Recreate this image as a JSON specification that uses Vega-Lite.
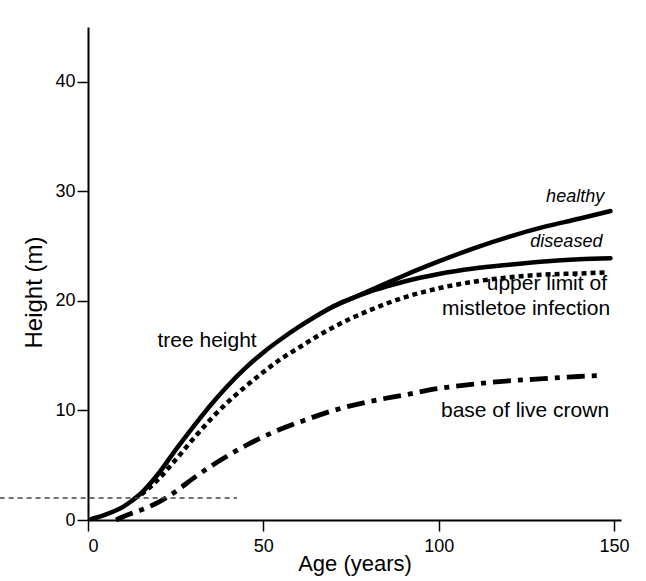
{
  "$schema": "https://vega.github.io/schema/vega-lite/v6.json",
  "width": 533,
  "height": 493,
  "autosize": {"type": "none"},
  "padding": {"left": 88, "top": 27, "right": 25, "bottom": 61},
  "background": "white",
  "config": {
    "view": {"stroke": null},
    "font": "Liberation Sans",
    "axis": {
      "grid": false,
      "domainColor": "black",
      "domainWidth": 2,
      "tickColor": "black",
      "tickWidth": 1.5,
      "tickSize": 11,
      "labelFont": "Liberation Sans",
      "labelFontSize": 18,
      "labelColor": "black",
      "titleFont": "Liberation Sans",
      "titleFontSize": 22,
      "titleFontWeight": "normal",
      "titleColor": "black"
    },
    "axisX": {"labelPadding": 6, "titlePadding": -2},
    "axisY": {"labelPadding": 2, "titlePadding": 8, "titleY": 265, "titleFontSize": 24}
  },
  "datasets": {
    "curves": [
      {"series": "healthy", "age": 1, "height": 0.1},
      {"series": "healthy", "age": 5, "height": 0.5},
      {"series": "healthy", "age": 10, "height": 1.2},
      {"series": "healthy", "age": 15, "height": 2.4},
      {"series": "healthy", "age": 20, "height": 4.2},
      {"series": "healthy", "age": 25, "height": 6.4},
      {"series": "healthy", "age": 30, "height": 8.5},
      {"series": "healthy", "age": 35, "height": 10.5},
      {"series": "healthy", "age": 40, "height": 12.3},
      {"series": "healthy", "age": 45, "height": 13.9},
      {"series": "healthy", "age": 50, "height": 15.3},
      {"series": "healthy", "age": 55, "height": 16.5},
      {"series": "healthy", "age": 60, "height": 17.6},
      {"series": "healthy", "age": 65, "height": 18.6},
      {"series": "healthy", "age": 70, "height": 19.5},
      {"series": "healthy", "age": 75, "height": 20.2},
      {"series": "healthy", "age": 80, "height": 20.9},
      {"series": "healthy", "age": 85, "height": 21.6},
      {"series": "healthy", "age": 90, "height": 22.3},
      {"series": "healthy", "age": 100, "height": 23.6},
      {"series": "healthy", "age": 110, "height": 24.8},
      {"series": "healthy", "age": 120, "height": 25.85},
      {"series": "healthy", "age": 130, "height": 26.75},
      {"series": "healthy", "age": 140, "height": 27.5},
      {"series": "healthy", "age": 149, "height": 28.2},
      {"series": "diseased", "age": 70, "height": 19.5},
      {"series": "diseased", "age": 75, "height": 20.2},
      {"series": "diseased", "age": 80, "height": 20.8},
      {"series": "diseased", "age": 85, "height": 21.3},
      {"series": "diseased", "age": 90, "height": 21.75},
      {"series": "diseased", "age": 100, "height": 22.45},
      {"series": "diseased", "age": 110, "height": 22.95},
      {"series": "diseased", "age": 120, "height": 23.3},
      {"series": "diseased", "age": 130, "height": 23.6},
      {"series": "diseased", "age": 140, "height": 23.8},
      {"series": "diseased", "age": 149, "height": 23.9},
      {"series": "mistletoe", "age": 13, "height": 1.9},
      {"series": "mistletoe", "age": 15, "height": 2.3},
      {"series": "mistletoe", "age": 20, "height": 3.7},
      {"series": "mistletoe", "age": 25, "height": 5.5},
      {"series": "mistletoe", "age": 30, "height": 7.4},
      {"series": "mistletoe", "age": 35, "height": 9.2},
      {"series": "mistletoe", "age": 40, "height": 10.8},
      {"series": "mistletoe", "age": 45, "height": 12.2},
      {"series": "mistletoe", "age": 50, "height": 13.5},
      {"series": "mistletoe", "age": 55, "height": 14.7},
      {"series": "mistletoe", "age": 60, "height": 15.7},
      {"series": "mistletoe", "age": 65, "height": 16.7},
      {"series": "mistletoe", "age": 70, "height": 17.6},
      {"series": "mistletoe", "age": 75, "height": 18.4},
      {"series": "mistletoe", "age": 80, "height": 19.1},
      {"series": "mistletoe", "age": 90, "height": 20.3},
      {"series": "mistletoe", "age": 100, "height": 21.15},
      {"series": "mistletoe", "age": 110, "height": 21.75},
      {"series": "mistletoe", "age": 120, "height": 22.15},
      {"series": "mistletoe", "age": 130, "height": 22.4},
      {"series": "mistletoe", "age": 140, "height": 22.5},
      {"series": "mistletoe", "age": 148, "height": 22.6},
      {"series": "crown", "age": 8, "height": 0},
      {"series": "crown", "age": 10, "height": 0.3},
      {"series": "crown", "age": 15, "height": 0.9},
      {"series": "crown", "age": 20, "height": 1.6},
      {"series": "crown", "age": 25, "height": 2.6},
      {"series": "crown", "age": 30, "height": 3.8},
      {"series": "crown", "age": 35, "height": 4.9},
      {"series": "crown", "age": 40, "height": 5.9},
      {"series": "crown", "age": 45, "height": 6.8},
      {"series": "crown", "age": 50, "height": 7.6},
      {"series": "crown", "age": 55, "height": 8.3},
      {"series": "crown", "age": 60, "height": 8.9},
      {"series": "crown", "age": 70, "height": 10.0},
      {"series": "crown", "age": 80, "height": 10.8},
      {"series": "crown", "age": 90, "height": 11.4},
      {"series": "crown", "age": 100, "height": 12.0},
      {"series": "crown", "age": 110, "height": 12.4},
      {"series": "crown", "age": 120, "height": 12.7},
      {"series": "crown", "age": 130, "height": 12.9},
      {"series": "crown", "age": 140, "height": 13.1},
      {"series": "crown", "age": 147, "height": 13.2}
    ]
  },
  "layer": [
    {
      "data": {"name": "curves"},
      "transform": [{"filter": "datum.series == 'healthy' || datum.series == 'diseased'"}],
      "mark": {"type": "line", "color": "black", "strokeWidth": 4.5, "interpolate": "monotone", "strokeCap": "round"},
      "encoding": {
        "x": {"field": "age", "type": "quantitative", "scale": {"domain": [0, 152], "nice": false}, "axis": {"values": [0, 50, 100, 150], "title": "Age (years)"}},
        "y": {"field": "height", "type": "quantitative", "scale": {"domain": [0, 45], "nice": false}, "axis": {"values": [0, 10, 20, 30, 40], "title": "Height (m)"}},
        "detail": {"field": "series"}
      }
    },
    {
      "data": {"name": "curves"},
      "transform": [{"filter": "datum.series == 'mistletoe'"}],
      "mark": {"type": "line", "color": "black", "strokeWidth": 4.5, "interpolate": "monotone", "strokeDash": [5, 4], "strokeCap": "butt"},
      "encoding": {
        "x": {"field": "age", "type": "quantitative"},
        "y": {"field": "height", "type": "quantitative"}
      }
    },
    {
      "data": {"name": "curves"},
      "transform": [{"filter": "datum.series == 'crown'"}],
      "mark": {"type": "line", "color": "black", "strokeWidth": 4.8, "interpolate": "monotone", "strokeDash": [18, 7, 5, 7], "strokeCap": "butt"},
      "encoding": {
        "x": {"field": "age", "type": "quantitative"},
        "y": {"field": "height", "type": "quantitative"}
      }
    },
    {
      "data": {"values": [{}]},
      "mark": {"type": "rule", "color": "#444444", "strokeWidth": 1.5, "strokeDash": [5, 4]},
      "encoding": {
        "x": {"datum": -25.2},
        "x2": {"datum": 42.5},
        "y": {"datum": 2}
      }
    },
    {
      "data": {"values": [{}]},
      "mark": {"type": "text", "text": "healthy", "align": "right", "baseline": "alphabetic", "fontStyle": "italic", "fontSize": 18, "color": "black"},
      "encoding": {"x": {"datum": 147.2}, "y": {"datum": 29.06}}
    },
    {
      "data": {"values": [{}]},
      "mark": {"type": "text", "text": "diseased", "align": "right", "baseline": "alphabetic", "fontStyle": "italic", "fontSize": 18, "color": "black"},
      "encoding": {"x": {"datum": 146.7}, "y": {"datum": 24.9}}
    },
    {
      "data": {"values": [{}]},
      "mark": {"type": "text", "text": "upper limit of", "align": "right", "baseline": "alphabetic", "fontSize": 21, "color": "black"},
      "encoding": {"x": {"datum": 148}, "y": {"datum": 20.95}}
    },
    {
      "data": {"values": [{}]},
      "mark": {"type": "text", "text": "mistletoe infection", "align": "right", "baseline": "alphabetic", "fontSize": 21, "color": "black"},
      "encoding": {"x": {"datum": 148.9}, "y": {"datum": 18.7}}
    },
    {
      "data": {"values": [{}]},
      "mark": {"type": "text", "text": "tree height", "align": "left", "baseline": "alphabetic", "fontSize": 21, "color": "black"},
      "encoding": {"x": {"datum": 19.8}, "y": {"datum": 15.83}}
    },
    {
      "data": {"values": [{}]},
      "mark": {"type": "text", "text": "base of live crown", "align": "right", "baseline": "alphabetic", "fontSize": 21, "color": "black"},
      "encoding": {"x": {"datum": 148.6}, "y": {"datum": 9.44}}
    }
  ]
}
